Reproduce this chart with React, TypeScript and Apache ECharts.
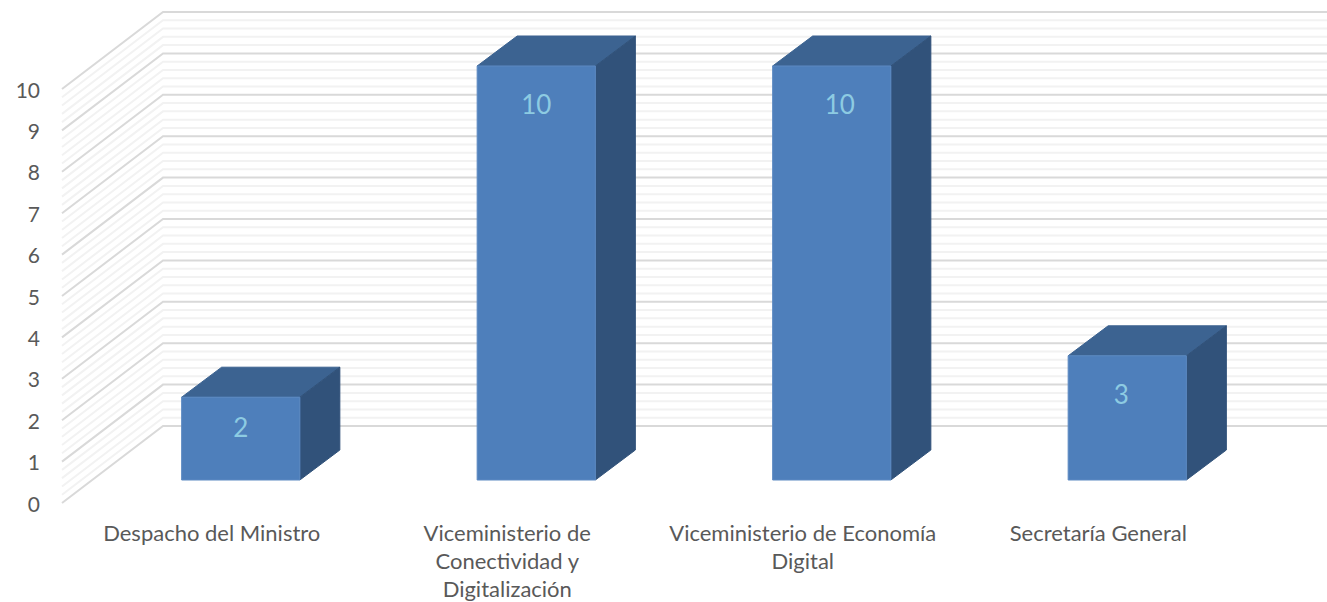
import React, { useEffect, useRef } from "react";
import * as echarts from "echarts";

const categories = [
  "Despacho del Ministro",
  "Viceministerio de\nConectividad y\nDigitalización",
  "Viceministerio de Economía\nDigital",
  "Secretaría General",
];
const values = [2, 10, 10, 3];
const yMin = 0;
const yMax = 10;
const labelNudge = [0, 0, 8, -6];
const gridLevels: number[] = [];
for (let i = 0; i <= 50; i++) gridLevels.push(i / 5);

const WALL_DX = 101;
const WALL_DY = -77;
const BAR_DX = 40;
const BAR_DY = -30;
const FONT = "Lato, 'Noto Sans', sans-serif";

export default function App() {
  const ref = useRef<HTMLDivElement>(null);
  useEffect(() => {
    const chart = echarts.init(ref.current!, undefined, { renderer: "svg" });
    chart.setOption({
      animation: false,
      backgroundColor: "#ffffff",
      grid: [
        { left: 64, top: 89, width: 1182, height: 414, outerBoundsMode: "none" },
        { left: 93, top: 66, width: 1182, height: 414, outerBoundsMode: "none" },
      ],
      xAxis: [
        {
          type: "category",
          gridIndex: 0,
          data: categories,
          axisLine: { show: false },
          axisTick: { show: false },
          axisLabel: {
            color: "#595959",
            fontFamily: FONT,
            fontSize: 22,
            lineHeight: 28,
            margin: 15,
            interval: 0,
          },
        },
        {
          type: "category",
          gridIndex: 1,
          data: categories,
          show: false,
        },
      ],
      yAxis: [
        {
          type: "value",
          gridIndex: 0,
          min: yMin,
          max: yMax,
          interval: 1,
          axisLine: { show: false },
          axisTick: { show: false },
          splitLine: { show: false },
          axisLabel: {
            color: "#595959",
            fontFamily: FONT,
            fontSize: 21,
            margin: 24,
          },
        },
        {
          type: "value",
          gridIndex: 1,
          min: yMin,
          max: yMax,
          interval: 1,
          show: false,
          splitLine: { show: false },
        },
      ],
      series: [
        {
          type: "custom",
          name: "gridlines",
          xAxisIndex: 0,
          yAxisIndex: 0,
          z: 1,
          silent: true,
          clip: false,
          data: gridLevels.map((v) => [0, v]),
          renderItem: (params: any, api: any) => {
            const v = api.value(1);
            const y = api.coord([0, v])[1];
            const x0 = params.coordSys.x - 2;
            const major = Math.abs(v - Math.round(v)) < 1e-6;
            return {
              type: "polyline",
              z2: major ? 2 : 1,
              shape: {
                points: [
                  [x0, y],
                  [x0 + WALL_DX, y + WALL_DY],
                  [1327, y + WALL_DY],
                ],
              },
              style: {
                fill: "none",
                stroke: major ? "#d9d9d9" : "#f2f2f2",
                lineWidth: 2,
              },
            };
          },
        },
        {
          type: "custom",
          name: "Total",
          xAxisIndex: 1,
          yAxisIndex: 1,
          z: 3,
          clip: false,
          data: values.map((v, i) => [i, v]),
          renderItem: (params: any, api: any) => {
            const cat = api.value(0);
            const val = api.value(1);
            const top = api.coord([cat, val]);
            const base = api.coord([cat, 0]);
            const w = api.size([1, 0])[0] * 0.4;
            const l = top[0] - w / 2;
            const r = top[0] + w / 2;
            const t = top[1];
            const b = base[1];
            const h = b - t;
            return {
              type: "group",
              children: [
                {
                  type: "polygon",
                  shape: { points: [[l, t], [l + BAR_DX, t + BAR_DY], [r + BAR_DX, t + BAR_DY], [r, t]] },
                  style: { fill: "#3c6391", stroke: "#3c6391", lineWidth: 1 },
                },
                {
                  type: "polygon",
                  shape: { points: [[r, t], [r + BAR_DX, t + BAR_DY], [r + BAR_DX, b + BAR_DY], [r, b]] },
                  style: { fill: "#31527a", stroke: "#31527a", lineWidth: 1 },
                },
                {
                  type: "rect",
                  shape: { x: l, y: t, width: w, height: h },
                  style: { fill: "#4e7fbb", stroke: "#5c8ac2", lineWidth: 1 },
                },
                {
                  type: "text",
                  x: top[0] + labelNudge[params.dataIndex],
                  y: t + Math.min(0.36 * h, 38),
                  style: {
                    text: String(val),
                    fill: "#8dcbe2",
                    font: `26px ${FONT}`,
                    align: "center",
                    verticalAlign: "middle",
                  },
                },
              ],
            };
          },
        },
      ],
    });
    return () => chart.dispose();
  }, []);
  return (
    <div
      ref={ref}
      style={{ position: "absolute", left: 0, top: 0, width: 1327, height: 602 }}
    />
  );
}
